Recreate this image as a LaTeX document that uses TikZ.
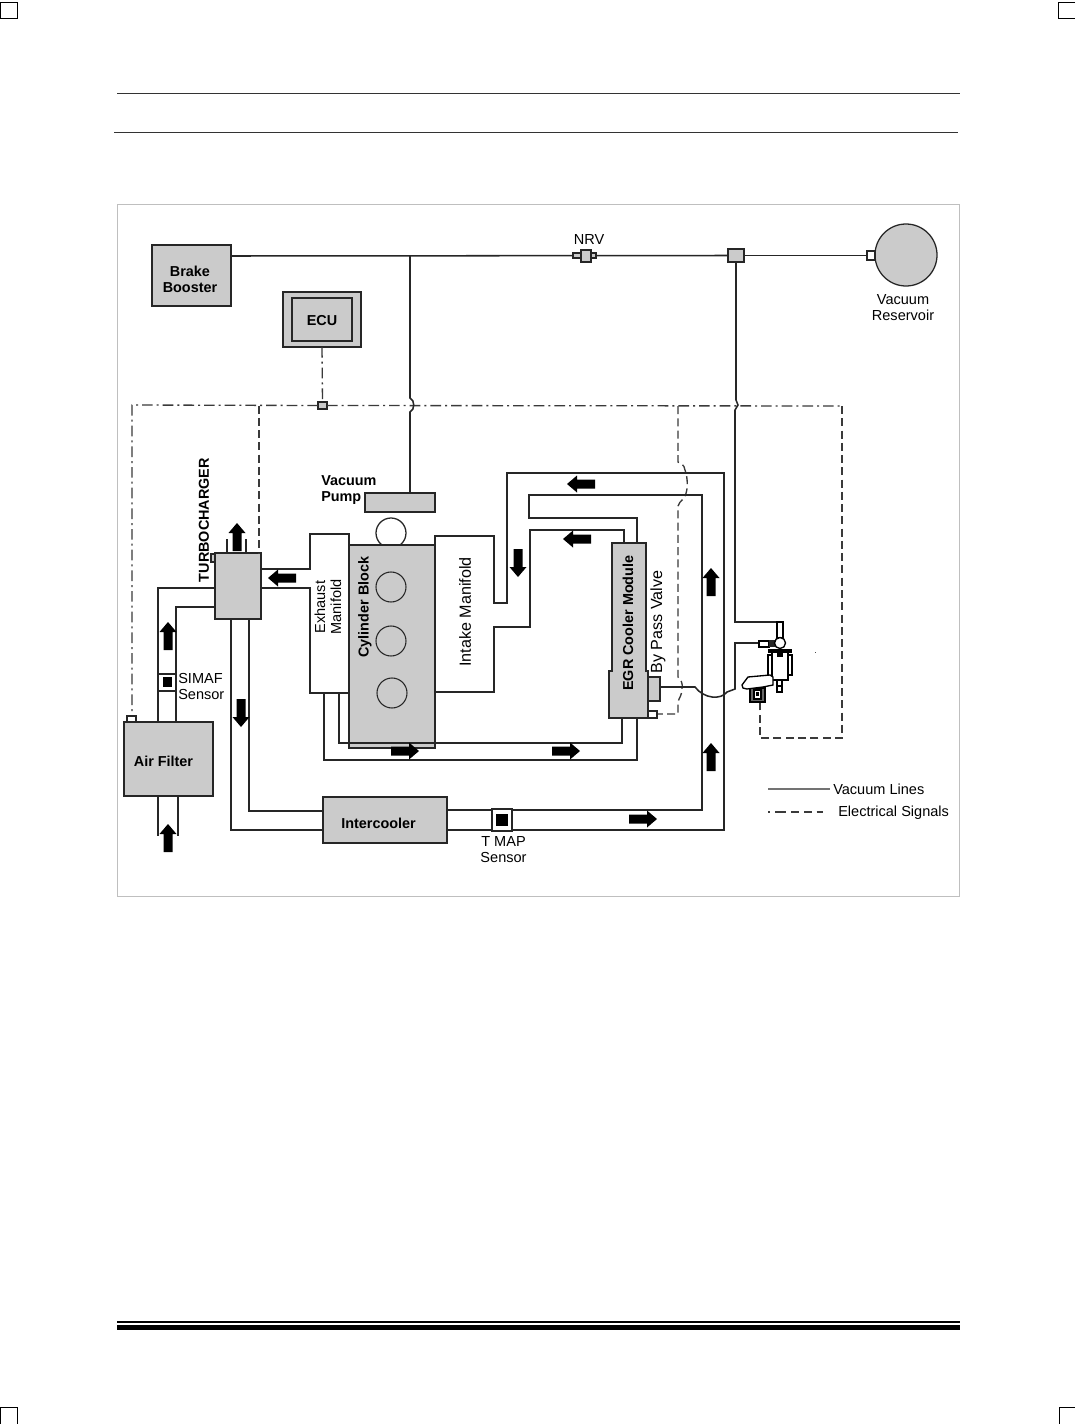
\documentclass[tikz,border=0pt]{standalone}
\usepackage{fontspec}
\setmainfont{Liberation Sans}
\definecolor{boxgray}{HTML}{CBCBCB}
\definecolor{ink}{HTML}{262626}
\definecolor{sigink}{HTML}{3A3A3A}
\newcommand{\pxbox}[6][]{\node[#2,#1,minimum width={(#5-#3)*0.75pt},minimum height={(#6-#4)*0.75pt}] at ({(#3+#5)/2},{(#4+#6)/2})}
\newcommand{\blockarrow}[3]{\fill[black,shift={(#1,#2)},rotate=#3] (-14,-4.5)--(4,-4.5)--(4,-8.5)--(14,0)--(4,8.5)--(4,4.5)--(-14,4.5)--cycle;}
\tikzset{
  x=0.75pt,y=-0.75pt,
  graybox/.style={draw=ink,fill=boxgray,line width=0.95pt,inner sep=0pt,outer sep=0pt},
  whitebox/.style={draw=ink,fill=white,line width=0.9pt,inner sep=0pt,outer sep=0pt},
  blackbox/.style={fill=black,inner sep=0pt,outer sep=0pt},
  pipe/.style={draw=ink,line width=1pt,line join=miter},
  vacline/.style={draw=ink,line width=1.15pt},
  signal/.style={draw=sigink,line width=1pt,dash pattern=on 6pt off 3.2pt},
  signaldot/.style={draw=sigink,line width=1pt,dash pattern=on 8pt off 3pt on 1.5pt off 3pt},
  rule/.style={draw=black!80,line width=0.75pt},
  txt/.style={font=\fontsize{10.9pt}{12pt}\selectfont,align=center,inner sep=0pt},
  btxt/.style={font=\fontsize{10.8pt}{12pt}\selectfont\bfseries,align=center,inner sep=0pt},
  bigtxt/.style={font=\fontsize{12.1pt}{13pt}\selectfont,align=center,inner sep=0pt},
}
\begin{document}
\begin{tikzpicture}
\useasboundingbox (0,0) rectangle (1075,1424);
\fill[white] (0,0) rectangle (1075,1424);
% crop marks
\draw[black,line width=0.7pt] (0.5,2) -- (17.5,2) -- (17.5,18.5) -- (0.5,18.5) -- cycle;
\draw[black,line width=0.7pt] (1075,2) -- (1058.5,2) -- (1058.5,18.5) -- (1075,18.5);
\draw[black,line width=0.7pt] (0.5,1424) -- (0.5,1407.5) -- (17.5,1407.5) -- (17.5,1424);
\draw[black,line width=0.7pt] (1059,1424) -- (1059,1407.5) -- (1075,1407.5);
% page rules
\draw[rule] (117,93.5) -- (960,93.5);
\draw[rule] (114,132.5) -- (958,132.5);
\fill[black] (117,1321) rectangle (960,1323);
\fill[black] (117,1325) rectangle (960,1330);
% frame
\draw[black!25,line width=0.8pt] (117.5,204.5) rectangle (959.5,896.5);

% boxes that anchor the connectors
\pxbox{graybox}{152}{245}{231}{306} (booster) {};
\pxbox{graybox}{283}{292}{361}{347} (ecuouter) {};
\pxbox{graybox}{292}{298}{352}{341} (ecu) {};
\pxbox{graybox}{728}{249}{744}{262} (vjunction) {};
\pxbox{graybox}{365}{493}{435}{512} (vacpump) {};
\pxbox{graybox}{323}{797}{447}{843} (intercooler) {};
\pxbox{graybox}{124}{722}{213}{796} (filter) {};
\pxbox{graybox}{215}{553}{261}{619} (turbo) {};
\pxbox{graybox}{648}{677}{660}{701} (bypass) {};
\node[graybox,circle,minimum size=46.5pt] (reservoir) at (906,255) {};
\pxbox{whitebox}{867}{251}{875}{260} (resport) {};

% signal wiring
\pxbox{graybox}{318}{402}{327}{409} (ecujunction) {};
\draw[signaldot] (ecuouter.south) -- (ecujunction.north);
\draw[signaldot] (ecujunction.west) -- (132,405) -- (132,716);
\draw[signal] (ecujunction.west -| 259,0) -- (turbo.north -| 259,0);
\draw[signaldot] (ecujunction.east) -- (842,406);
\draw[signal] (842,406) -- (842,738) -- (760,738) -- (760,703);
\draw[signal] (678,406) -- (678,462) .. controls (681,464) and (684,464) .. (685,470) .. controls (688,478) and (688,490) .. (685,496) .. controls (684,500) and (680,500) .. (678,506) -- (678,677) .. controls (681,680) and (683,683) .. (682,689) .. controls (682,695) and (679,698) .. (678,702) -- (678,714) -- (657,714);

% vacuum lines
\draw[vacline] (booster.east |- 0,256) -- (vjunction.west);
\draw[vacline] (vjunction.east) -- (resport.west);
\draw[vacline] (410,256) -- (410,398) .. controls (415,400) and (415,410) .. (410,412) -- (vacpump.north -| 410,0);
\draw[vacline] (vjunction.south -| 736,0) -- (736,400) -- (738,405) -- (735,410) -- (735,622) -- (780,622);
\draw[vacline] (bypass.east |- 0,687) -- (695,687) .. controls (704,699) and (721,700) .. (727,692) -- (735,689) -- (735,643) -- (759,643);

% pipes
\draw[pipe] (filter.north -| 158,0) -- (158,588) -- (turbo.west |- 0,588);
\draw[pipe] (filter.north -| 176,0) -- (176,607) -- (turbo.west |- 0,607);
\draw[pipe] (filter.south -| 158,0) -- (158,836);
\draw[pipe] (filter.south -| 178,0) -- (178,836);
\draw[pipe] (turbo.north -| 227,0) -- (227,539);
\draw[pipe] (turbo.north -| 246,0) -- (246,539);
\draw[pipe] (turbo.east |- 0,569) -- (310,569) -- (310,534) -- (349,534) -- (349,545);
\draw[pipe] (turbo.east |- 0,588) -- (310,588) -- (310,693) -- (349,693);
\draw[pipe] (turbo.south -| 249,0) -- (249,811) -- (intercooler.west |- 0,811);
\draw[pipe] (turbo.south -| 231,0) -- (231,830) -- (intercooler.west |- 0,830);
\draw[pipe] (435,545) -- (435,536) -- (494,536) -- (494,603) -- (507,603) -- (507,473) -- (724,473) -- (724,830) -- (intercooler.east |- 0,830);
\draw[pipe] (435,692) -- (494,692) -- (494,627) -- (530,627) -- (530,530) -- (624,530) -- (624,543);
\draw[pipe] (637,543) -- (637,518) -- (529,518) -- (529,495) -- (702,495) -- (702,810) -- (intercooler.east |- 0,810);
\draw[pipe] (622,718) -- (622,743) -- (339,743) -- (339,693);
\draw[pipe] (637,718) -- (637,760) -- (324,760) -- (324,693);

% cylinder block
\node[draw=ink,line width=0.95pt,circle,minimum size=22.5pt,inner sep=0pt] (cyl0) at (391,533) {};
\pxbox{graybox}{349}{545}{435}{748} (block) {};
\node[draw=ink,line width=0.8pt,circle,minimum size=22.5pt,inner sep=0pt] (cyl1) at (391,587) {};
\node[draw=ink,line width=0.8pt,circle,minimum size=22.5pt,inner sep=0pt] (cyl2) at (391,641) {};
\node[draw=ink,line width=0.8pt,circle,minimum size=22.5pt,inner sep=0pt] (cyl3) at (392,693) {};
\draw[pipe] (339,743) -- (435,743);

% EGR cooler module
\filldraw[draw=ink,fill=boxgray,line width=0.95pt] (612,543) -- (646,543) -- (646,671) -- (648,671) -- (648,718) -- (609,718) -- (609,671) -- (612,671) -- cycle;
\pxbox{whitebox}{648}{711}{657}{718} (egrport) {};
\pxbox{graybox}{211}{554}{215}{562} (turboport) {};
\pxbox{whitebox}{127}{716}{136}{722} (filterport) {};

% NRV
\pxbox{graybox}{573}{253}{596}{258} (nrvbody) {};
\pxbox{graybox}{581}{250}{591}{262} (nrv) {};

% sensors
\pxbox{whitebox}{158}{674}{176}{691} (simaf) {};
\pxbox{blackbox}{163}{677}{172}{687} (simafcore) {};
\pxbox{whitebox}{492}{809}{512}{831} (tmap) {};
\pxbox{blackbox}{496}{814}{508}{826} (tmapcore) {};

% vacuum solenoid and modulator
\begin{scope}[line width=1pt,draw=black]
\filldraw[fill=white] (777,622) rectangle (783,638);
\filldraw[fill=white] (759,641) rectangle (769,647);
\fill[ink] (769,640) rectangle (775,647);
\filldraw[fill=white] (780,643) circle[radius=5.5];
\filldraw[fill=white] (772,652) rectangle (788,680);
\filldraw[fill=white] (768,655) rectangle (772,678);
\filldraw[fill=white] (788,655) rectangle (792,675);
\fill[black] (768,649) rectangle (792,653);
\fill[black] (777,652) rectangle (783,657);
\filldraw[fill=white] (777,680) rectangle (782,692);
\draw (777,686) -- (782,686);
\filldraw[fill=black!60] (750,688) rectangle (765,702);
\filldraw[fill=white] (754,690) rectangle (761,699);
\fill[black] (756,692) rectangle (759,696);
\filldraw[fill=white] (742,685) -- (748,677) -- (770,675) -- (773,677) -- (773,685) -- (763,687) -- (747,689) -- (743,688) -- cycle;
\fill[black!70] (814.5,651.5) rectangle (816,653);
\end{scope}

% arrows
\blockarrow{168}{636}{90}
\blockarrow{168}{838}{90}
\blockarrow{241}{713}{-90}
\blockarrow{237}{537}{90}
\blockarrow{282}{578}{180}
\blockarrow{405}{751}{0}
\blockarrow{566}{751}{0}
\blockarrow{643}{819}{0}
\blockarrow{581}{484}{180}
\blockarrow{577}{539}{180}
\blockarrow{518}{563}{-90}
\blockarrow{711}{582}{90}
\blockarrow{711}{757}{90}

% labels
\node[btxt] (lbooster) at (190,279) {Brake\\Booster};
\node[btxt] (lecu) at (322,320.5) {ECU};
\node[txt] (lnrv) at (589,239) {NRV};
\node[txt] (lres) at (903,308) {Vacuum\\Reservoir};
\node[btxt,align=left,anchor=west] (lpump) at (321,490) {Vacuum\\Pump};
\node[btxt,rotate=90] (lturbo) at (204,520) {TURBOCHARGER};
\node[txt,rotate=90] (lexh) at (328,607) {Exhaust\\Manifold};
\node[btxt,rotate=90] (lblock) at (365,607) {Cylinder Block};
\node[bigtxt,rotate=90] (lint) at (465,612) {Intake Manifold};
\node[btxt,rotate=90] (legr) at (628,623) {EGR Cooler Module};
\node[bigtxt,rotate=90] (lbypass) at (658,622) {By Pass Valve};
\node[txt,align=left,anchor=west] (lsimaf) at (178,686) {SIMAF\\Sensor};
\node[btxt] (lfilter) at (163.5,761) {Air Filter};
\node[btxt] (lcool) at (378.5,823) {Intercooler};
\node[txt] (ltmap) at (503.5,850) {T MAP\\Sensor};

% legend
\coordinate (legv) at (768,789);
\coordinate (lege) at (768,812);
\coordinate (legvend) at (830,789);
\coordinate (legeend) at (823,812);
\node[txt,anchor=west] (lvac) at (833,789) {Vacuum Lines};
\node[txt,anchor=west] (lele) at (838,813) {Electrical Signals};
\draw[black!55,line width=1pt] (legv) -- (legvend);
\draw[sigink,line width=1pt,dash pattern=on 1.5pt off 4pt on 8pt off 4pt on 6pt off 3.5pt on 6pt off 3.5pt on 6pt off 3pt] (lege) -- (legeend);
\end{tikzpicture}
\end{document}
